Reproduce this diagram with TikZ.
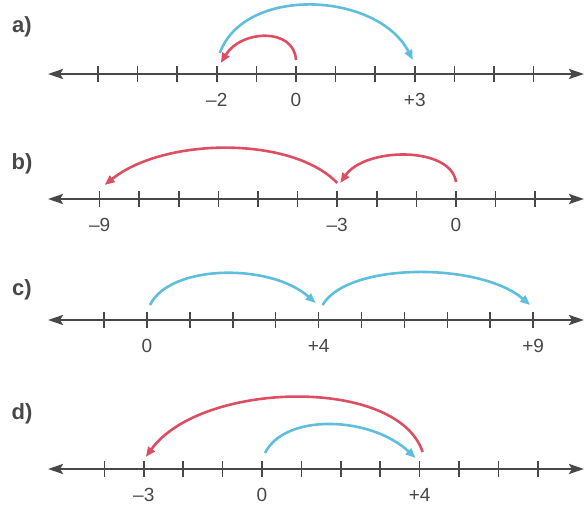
\documentclass[tikz,border=0pt]{standalone}
\usepackage{fontspec}
\setmainfont{Liberation Sans}
\usetikzlibrary{arrows.meta}
\definecolor{jumpblue}{RGB}{95,190,220}
\definecolor{jumpred}{RGB}{222,78,98}
\definecolor{ink}{RGB}{72,72,72}

\begin{document}
\begin{tikzpicture}[x=1pt, y=1pt, font=\fontsize{19}{22}\selectfont,
  axis/.style={ink, line width=2.6pt, {Stealth[length=15pt,width=10pt,inset=3pt]}-{Stealth[length=15pt,width=10pt,inset=3pt]}},
  tick/.style={ink, line width=1.5pt},
  num/.style={text=ink, inner sep=1pt},
  part/.style={text=ink, inner sep=1pt, font=\fontsize{22}{26}\selectfont\bfseries},
  jump/.style={line width=2.6pt, -{Triangle[length=10pt,width=8pt]}}]
\useasboundingbox (0,0) rectangle (586,506);

% a) 0 + (-2) + (+3)
\node[part] (pa) at (22,479) {a)};
\draw[axis] (48,432) -- (584,432);
\foreach \k in {-5,...,6} {
  \coordinate (a\k) at (296+39.6*\k,432);
  \draw[tick] ([yshift=-8pt]a\k) -- ([yshift=8pt]a\k);
}
\node[num] (la-2) at ([yshift=-26pt]a-2) {\textendash2};
\node[num] (la0) at ([yshift=-26pt]a0) {0};
\node[num] (la3) at ([yshift=-26pt]a3) {+3};
\draw[jump, jumpblue] ([xshift=3pt,yshift=21pt]a-2) .. controls +(25,68) and +(-35,68) .. ([xshift=-2pt,yshift=14pt]a3);
\draw[jump, jumpred] ([yshift=14pt]a0) .. controls +(-2,33) and +(20,33) .. ([xshift=4pt,yshift=11pt]a-2);

% b) 0 + (-3) + (-6)
\node[part] (pb) at (22,342) {b)};
\draw[axis] (48,307) -- (584,307);
\foreach \k in {-9,...,2} {
  \coordinate (b\k) at (456+39.6*\k,307);
  \draw[tick] ([yshift=-8pt]b\k) -- ([yshift=8pt]b\k);
}
\node[num] (lb-9) at ([yshift=-26pt]b-9) {\textendash9};
\node[num] (lb-3) at ([yshift=-26pt]b-3) {\textendash3};
\node[num] (lb0) at ([yshift=-26pt]b0) {0};
\draw[jump, jumpred] ([yshift=17pt]b0) .. controls +(-5,36) and +(25,36) .. ([xshift=3pt,yshift=16pt]b-3);
\draw[jump, jumpred] ([yshift=16pt]b-3) .. controls +(-45,47) and +(60,48) .. ([xshift=5pt,yshift=14pt]b-9);

% c) 0 + (+4) + (+5)
\node[part] (pc) at (22,216) {c)};
\draw[axis] (48,186) -- (584,186);
\foreach \k in {-1,...,9} {
  \coordinate (c\k) at (147+42.9*\k,186);
  \draw[tick] ([yshift=-8pt]c\k) -- ([yshift=8pt]c\k);
}
\node[num] (lc0) at ([yshift=-26pt]c0) {0};
\node[num] (lc4) at ([yshift=-26pt]c4) {+4};
\node[num] (lc9) at ([yshift=-26pt]c9) {+9};
\draw[jump, jumpblue] ([xshift=3pt,yshift=15pt]c0) .. controls +(20,41) and +(-45,40) .. ([xshift=-3pt,yshift=17pt]c4);
\draw[jump, jumpblue] ([xshift=4pt,yshift=15pt]c4) .. controls +(25,43) and +(-50,43) .. ([xshift=-3pt,yshift=15pt]c9);

% d) 0 + (+4) + (-7)
\node[part] (pd) at (22,92) {d)};
\draw[axis] (48,37) -- (584,37);
\foreach \k in {-4,...,7} {
  \coordinate (d\k) at (262+39.4*\k,37);
  \draw[tick] ([yshift=-8pt]d\k) -- ([yshift=8pt]d\k);
}
\node[num] (ld-3) at ([yshift=-26pt]d-3) {\textendash3};
\node[num] (ld0) at ([yshift=-26pt]d0) {0};
\node[num] (ld4) at ([yshift=-26pt]d4) {+4};
\draw[jump, jumpblue] ([xshift=3pt,yshift=16pt]d0) .. controls +(20,40) and +(-45,42) .. ([xshift=-4pt,yshift=11pt]d4);
\draw[jump, jumpred] ([xshift=3pt,yshift=17pt]d4) .. controls +(-25,76) and +(55,76) .. ([xshift=2pt,yshift=12pt]d-3);
\end{tikzpicture}
\end{document}
